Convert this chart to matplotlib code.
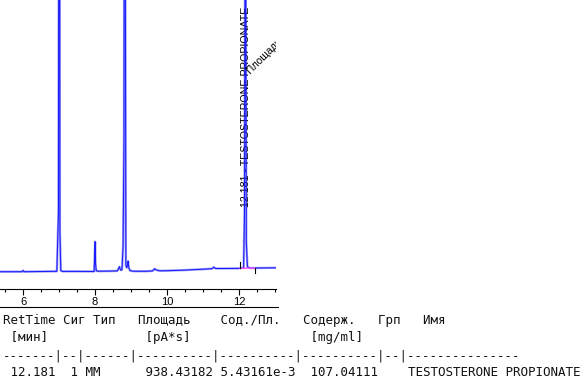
import numpy as np
import matplotlib
matplotlib.use("Agg")
from matplotlib import pyplot as plt
from matplotlib.lines import Line2D

# trace points (time in min, signal above baseline)
times = [5.36, 5.97, 6.00, 6.03, 6.50, 6.94, 6.985, 6.998, 7.012, 7.025, 7.05, 7.10,
         7.50, 7.975, 7.99, 8.003, 8.015, 8.035, 8.08, 8.40, 8.62, 8.66, 8.68, 8.70,
         8.72, 8.75, 8.78, 8.805, 8.823, 8.838, 8.858, 8.885, 8.905, 8.92, 8.94, 8.97,
         9.05, 9.40, 9.60, 9.66, 9.69, 9.72, 9.80, 10.00, 10.50, 11.00, 11.25, 11.30,
         11.35, 11.60, 12.00, 12.13, 12.155, 12.172, 12.188, 12.205, 12.235, 12.30, 12.50,
         13.05]
signal = [0.0, 0.0, 1.2, 0.0, 0.2, 0.4, 60.0, 600.0, 600.0, 40.0, 1.0, 0.3,
          0.3, 0.2, 15.0, 30.0, 8.0, 1.0, 0.5, 0.6, 0.8, 3.5, 5.0, 2.5,
          1.5, 2.0, 25.0, 130.0, 700.0, 420.0, 6.0, 4.0, 7.0, 10.5, 4.0, 1.2,
          0.5, 0.4, 0.8, 3.0, 2.0, 1.5, 0.9, 1.0, 1.6, 2.5, 3.0, 4.5,
          3.2, 3.2, 3.3, 3.8, 60.0, 330.0, 330.0, 30.0, 5.0, 3.6, 3.7,
          3.9]

# integration of the named peak
peak_rt = 12.181
peak_name = "TESTOSTERONE PROPIONATE"
peak_start = [12.03, 3.4]
peak_end = [12.44, 3.6]

# report table
table_rows = [
    "RetTime Сиг Тип   Площадь    Сод./Пл.   Содерж.   Грп   Имя",
    " [мин]             [pA*s]                [mg/ml]",
    "-------|--|------|----------|----------|----------|--|---------------",
    " 12.181  1 MM      938.43182 5.43161e-3  107.04111    TESTOSTERONE PROPIONATE",
]

W, H = 588, 388
fig = plt.figure(figsize=(W / 100, H / 100), dpi=100)
ax = fig.add_axes([0, (H - 289) / H, 276 / W, 289 / H])

ax.plot(times, signal, color="#a3a3f5", linewidth=1.7, solid_joinstyle="round", zorder=2)
ax.plot(times, signal, color="#1a1aff", linewidth=0.75, zorder=3)

# peak baseline and start/end marks
ax.plot([peak_start[0], peak_end[0]], [peak_start[1], peak_end[1]], color="#ff55ff", linewidth=1.0, zorder=4)
ax.plot([peak_start[0], peak_start[0]], [peak_start[1], peak_start[1] + 6], color="black", linewidth=0.8, zorder=5)
ax.plot([peak_end[0], peak_end[0]], [peak_end[1], peak_end[1] - 5], color="black", linewidth=0.8, zorder=5)

ax.text(peak_rt + 0.02, 64.7, f"{peak_rt:.3f} - {peak_name}", rotation=90, ha="center", va="bottom",
        fontsize=7.7, family="Liberation Sans", color="black", zorder=2.5, clip_on=True)
ax.text(12.37, 196.0, "Площадь: 938.432", rotation=45, rotation_mode="anchor", ha="left", va="bottom",
        fontsize=7.5, family="Liberation Sans", color="black", clip_on=True)

ax.set_xlim(5.36, 13.03)
ax.set_ylim(-17.3, 271.7)
ax.set_xticks([6, 8, 10, 12])
ax.set_xticks(np.arange(5.5, 13.1, 0.5), minor=True)
ax.tick_params(axis="x", which="major", length=4.0, width=0.8, labelsize=8, pad=2.0)
ax.tick_params(axis="x", which="minor", length=2.5, width=0.8)
for lbl in ax.get_xticklabels():
    lbl.set_family("Liberation Sans")
ax.set_yticks([])
for side in ["left", "right", "top"]:
    ax.spines[side].set_visible(False)
ax.spines["bottom"].set_linewidth(0.8)

# frame line under the tick labels
fig.add_artist(Line2D([0, 278 / W], [(H - 306.5) / H, (H - 306.5) / H], color="black", linewidth=0.8))

row_baselines = [324, 341.5, 359, 376.5]
for txt, yb in zip(table_rows, row_baselines):
    fig.text(3 / W, (H - yb) / H, txt, family="DejaVu Sans Mono", fontsize=9, va="baseline", ha="left",
             color="#111111")

fig.savefig("out.png", dpi=100)
